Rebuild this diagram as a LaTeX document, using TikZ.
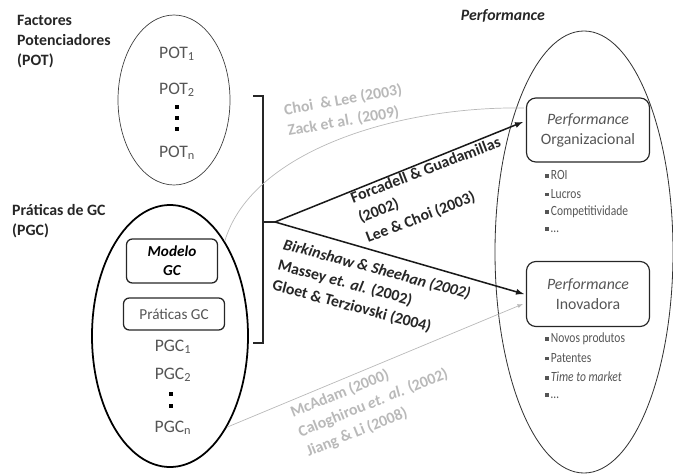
\documentclass[tikz,border=0pt]{standalone}
\usepackage{fontspec}
\setmainfont{Carlito}
\newfontfamily\condfont[FakeStretch=0.82]{Carlito}
\usetikzlibrary{shapes.geometric,positioning,calc}
\definecolor{txtgray}{RGB}{85,85,85}
\definecolor{refgray}{RGB}{185,185,185}
\newcommand{\sqb}{\rule[0.15em]{2.8pt}{2.8pt}}
\begin{document}
\begin{tikzpicture}[x=0.03cm,y=-0.03cm,
  lbl/.style={font=\fontsize{13.5}{17}\selectfont\bfseries,text=black!85,align=left,inner sep=0pt},
  item/.style={font=\fontsize{15}{18}\selectfont,text=txtgray,inner sep=1pt},
  sq/.style={fill=black,minimum size=3.4pt,inner sep=0pt},
  gcbox/.style={draw=black!85,line width=1.1pt,rounded corners=5pt,align=center,font=\fontsize{13}{16}\selectfont},
  perfbox/.style={draw=black!85,line width=1pt,rounded corners=8pt,align=center,text=txtgray,
    font=\fontsize{13.5}{17}\selectfont,minimum width=3.69cm},
  cite/.style={font=\fontsize{13.5}{18}\selectfont\bfseries,align=left,inner sep=0pt,anchor=west},
  bul/.style={font=\condfont\fontsize{12}{14}\selectfont,text=txtgray,anchor=west,inner sep=0pt}]
\useasboundingbox (0,0) rectangle (673,474);
% conjuntos
\node[draw=black!75,line width=0.6pt,ellipse,minimum width=3.36cm,minimum height=5.1cm] (pot) at (174,100) {};
\node[draw=black,line width=1.5pt,ellipse,minimum width=4.68cm,minimum height=7.86cm] (pgc) at (170,336) {};
\node[draw=black!80,line width=0.7pt,ellipse,minimum width=5.34cm,minimum height=13.26cm] (perf) at (584,252) {};
% titulos
\node[lbl,anchor=north west] (tpot) at (17,15) {Factores\\Potenciadores\\(POT)};
\node[lbl,anchor=north west] (tpgc) at (12,204) {Pr\'aticas de GC\\(PGC)};
\node[lbl,anchor=east,font=\fontsize{13.5}{17}\selectfont\bfseries\itshape] (tperf) at (545,16) {Performance};
% potenciadores
\node[item] (pot1) at (177,54) {POT\textsubscript{1}};
\node[item] (pot2) at (177,90) {POT\textsubscript{2}};
\node[item] (potn) at (177,153) {POT\textsubscript{n}};
\foreach \y in {107,118,129} \node[sq] at (177,\y) {};
% praticas
\node[gcbox,minimum width=2.73cm,minimum height=1.32cm,font=\fontsize{13}{16}\selectfont\bfseries\itshape] (modelo) at (172,261) {Modelo\\GC};
\node[gcbox,minimum width=3.03cm,minimum height=0.96cm,text=txtgray] (prat) at (174,314) {Pr\'aticas GC};
\node[item] (pgc1) at (173,347) {PGC\textsubscript{1}};
\node[item] (pgc2) at (173,375) {PGC\textsubscript{2}};
\node[item] (pgcn) at (173,428) {PGC\textsubscript{n}};
\foreach \y in {394,406} \node[sq] at (171,\y) {};
% performance
\node[perfbox,minimum height=1.92cm] (org) at (588,130) {\textit{Performance}\\Organizacional};
\node[perfbox,minimum height=1.95cm] (inov) at (588,294) {\textit{Performance}\\Inovadora};
\foreach \t [count=\i] in {ROI,Lucros,Competitividade,\ldots}
  \node[bul] (o\i) at (545,157+18.3*\i) {\sqb\,\t};
\foreach \t [count=\i] in {Novos produtos,Patentes,\textit{Time to market},\ldots}
  \node[bul] (n\i) at (545,320+19*\i) {\sqb\,\t};
% chaveta
\coordinate (bt) at (263,96);
\coordinate (bb) at (263,343);
\coordinate (fork) at (275,222);
\draw[line width=1.4pt,black!85] ($(bt)+(-10,0)$) -- (bt) -- (bb) -- ($(bb)+(-10,0)$);
\draw[line width=1.4pt,black!85] (263,222) -- (fork);
% ligacoes
\draw[refgray,line width=0.6pt] (pgc.60) .. controls (252,150) and (400,106) .. ($(org.west)+(-2,-22)$);
\draw[refgray,line width=0.6pt,-latex] (pgc.-58) -- ($(inov.west)+(-3,10)$);
\draw[line width=1.3pt,black!90,-latex] (fork) -- ($(org.west)+(-3,-8)$);
\draw[line width=1.3pt,black!90,-latex] (fork) -- ($(inov.west)+(-2,0)$);
% autores
\node[cite,text=refgray,rotate=10] (c1) at (286,121) {Choi~~\& Lee (2003)\\Zack et al. (2009)};
\node[cite,text=black!85,rotate=21] (c2) at (359,219) {Forcadell \& Guadamillas\\(2002)\\Lee \& Choi (2003)};
\node[cite,text=black!85,rotate=-15] (c3) at (278,265) {\textit{Birkinshaw \& Sheehan (2002)}\\Massey \textit{et. al.} (2002)\\Gloet \& Terziovski (2004)};
\node[cite,text=refgray,rotate=22] (c4) at (299,433) {McAdam (2000)\\Caloghirou \textit{et. al.} (2002)\\Jiang \& Li (2008)};
\end{tikzpicture}
\end{document}
